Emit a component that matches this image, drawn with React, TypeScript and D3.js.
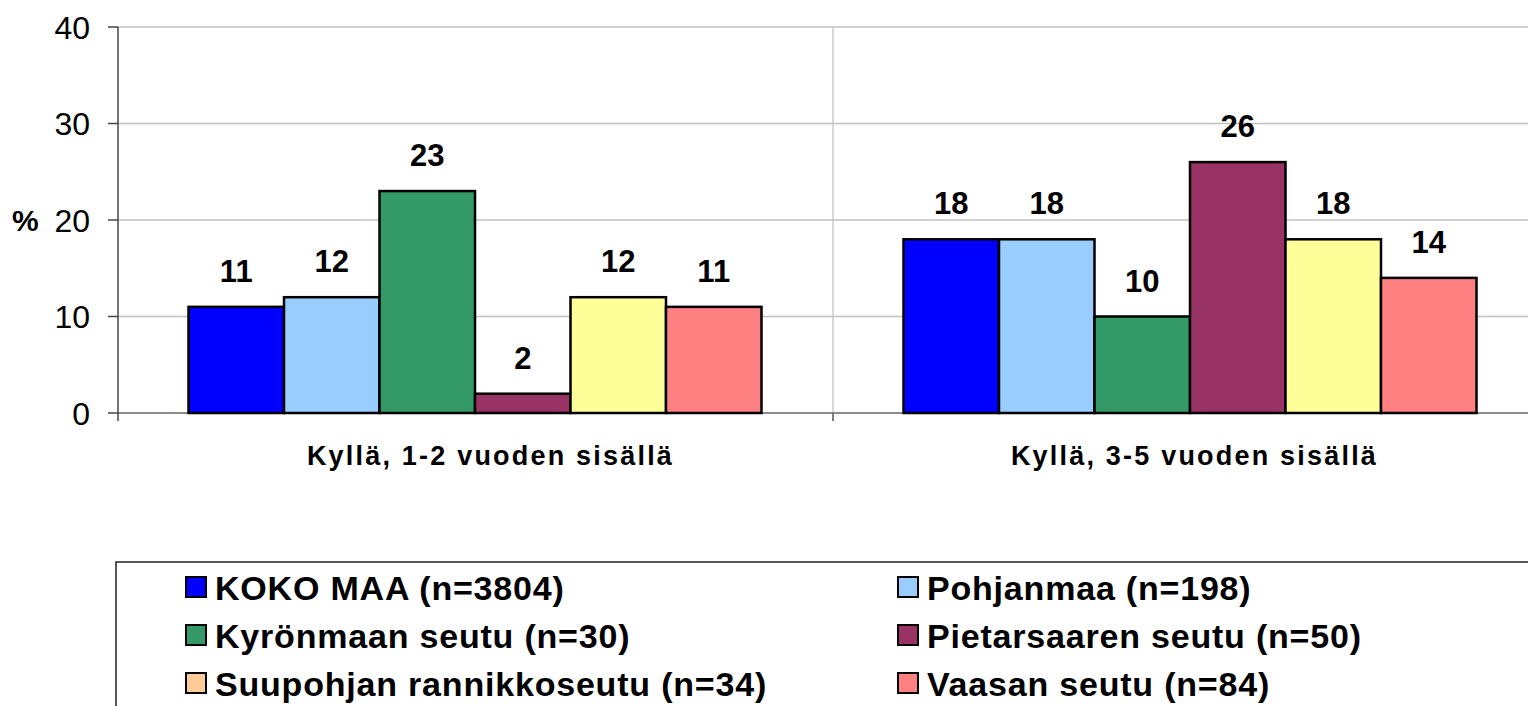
import React from "react";
import * as d3 from "d3";

const categories = ["Kyllä, 1-2 vuoden sisällä", "Kyllä, 3-5 vuoden sisällä"];
const seriesNames = [
  "KOKO MAA (n=3804)",
  "Pohjanmaa (n=198)",
  "Kyrönmaan seutu (n=30)",
  "Pietarsaaren seutu (n=50)",
  "Suupohjan rannikkoseutu (n=34)",
  "Vaasan seutu (n=84)",
];
const kokoMaa = [11, 18];
const pohjanmaa = [12, 18];
const kyronmaa = [23, 10];
const pietarsaari = [2, 26];
const suupohja = [12, 18];
const vaasa = [11, 14];
const seriesValues = [kokoMaa, pohjanmaa, kyronmaa, pietarsaari, suupohja, vaasa];
const yTicks = [0, 10, 20, 30, 40];

const barColors = ["#0000FF", "#99CCFF", "#339966", "#993366", "#FFFF99", "#FF8080"];
const legendColors = ["#0000FF", "#99CCFF", "#339966", "#993366", "#FFCC99", "#FF8080"];

const FONT = "Arial, 'Liberation Sans', sans-serif";

export default function App() {
  const W = 1528, H = 706;
  const left = 118, right = 1548, top = 27, bottom = 413;
  const y = d3.scaleLinear().domain([0, 40]).range([bottom, top]);
  const x0 = d3.scaleBand<string>().domain(categories).range([left, right]).padding(0);
  const bw = x0.bandwidth();
  const x1 = d3.scaleBand<string>().domain(seriesNames).range([70.5, bw - 71.5]).padding(0);

  const legendCols = [186, 898];
  const legendRows = [577, 625, 673];

  return (
    <svg width={W} height={H} style={{ position: "absolute", left: 0, top: 0, background: "#fff" }}>
      {/* gridlines */}
      {yTicks.filter((t) => t > 0).map((t) => (
        <line key={"g" + t} x1={left} x2={W} y1={y(t)} y2={y(t)} stroke="#c0c0c0" strokeWidth={1.5} />
      ))}
      {/* vertical category divider */}
      <line x1={x0(categories[1])!} x2={x0(categories[1])!} y1={top} y2={bottom} stroke="#c8c8c8" strokeWidth={1.5} />
      <line x1={x0(categories[1])!} x2={x0(categories[1])!} y1={bottom} y2={bottom + 8} stroke="#555" strokeWidth={1.5} />
      {/* x axis */}
      <line x1={left} x2={W} y1={bottom} y2={bottom} stroke="#666" strokeWidth={1.5} />
      {/* y axis */}
      <line x1={left} x2={left} y1={top} y2={bottom + 8} stroke="#444" strokeWidth={1.5} />
      {yTicks.map((t) => (
        <g key={"t" + t}>
          <line x1={left - 10} x2={left} y1={y(t)} y2={y(t)} stroke="#444" strokeWidth={1.5} />
          <text x={90} y={y(t)} dy="0.36em" textAnchor="end" fontFamily={FONT} fontSize={32} fill="#000">
            {t}
          </text>
        </g>
      ))}
      <text x={12} y={y(20) + 11} fontFamily={FONT} fontSize={30} fontWeight="bold" fill="#000">%</text>

      {/* bars */}
      {categories.map((c, ci) => (
        <g key={c} transform={`translate(${x0(c)},0)`}>
          {seriesNames.map((s, si) => {
            const v = seriesValues[si][ci];
            const bx = x1(s)!;
            return (
              <g key={s}>
                <rect x={bx} y={y(v)} width={x1.bandwidth()} height={bottom - y(v)} fill={barColors[si]} stroke="#000" strokeWidth={2.5} />
                <text x={bx + x1.bandwidth() / 2} y={y(v) - 25} textAnchor="middle" fontFamily={FONT} fontSize={31} fontWeight="bold" fill="#000">
                  {v}
                </text>
              </g>
            );
          })}
          <text x={bw / 2 + (ci === 0 ? 15 : 4)} y={465} textAnchor="middle" fontFamily={FONT} fontSize={27} fontWeight="bold" letterSpacing={2.2} fill="#000">
            {c}
          </text>
        </g>
      ))}

      {/* legend */}
      <rect x={116} y={562} width={1500} height={200} fill="none" stroke="#222" strokeWidth={1.5} />
      {seriesNames.map((s, i) => {
        const col = i % 2;
        const row = Math.floor(i / 2);
        const lx = legendCols[col];
        const ly = legendRows[row];
        return (
          <g key={"l" + s}>
            <rect x={lx} y={ly} width={20} height={20} fill={legendColors[i]} stroke="#000" strokeWidth={2} />
            <text x={lx + 29} y={ly + 23} fontFamily={FONT} fontSize={34} fontWeight="bold" letterSpacing={0.8} fill="#000">
              {s}
            </text>
          </g>
        );
      })}
    </svg>
  );
}
